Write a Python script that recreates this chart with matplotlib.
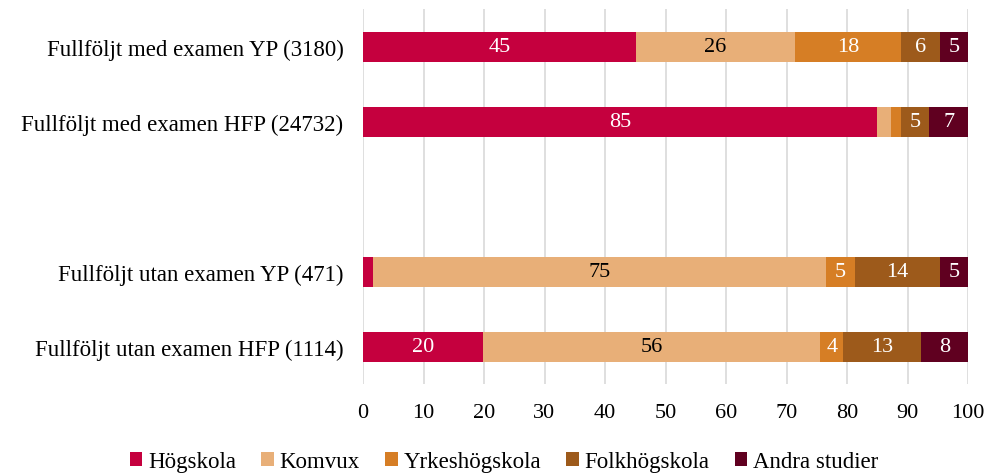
import matplotlib
matplotlib.use("Agg")
import matplotlib.pyplot as plt
import numpy as np

categories = ["Fullföljt med examen YP (3180)",
              "Fullföljt med examen HFP (24732)",
              "",
              "Fullföljt utan examen YP (471)",
              "Fullföljt utan examen HFP (1114)"]
series_names = ["Högskola", "Komvux", "Yrkeshögskola", "Folkhögskola", "Andra studier"]
values = {
    "Högskola":      [45.1, 85.0, 0, 1.6, 19.8],
    "Komvux":        [26.3, 2.3, 0, 74.9, 55.8],
    "Yrkeshögskola": [17.5, 1.7, 0, 4.8, 3.8],
    "Folkhögskola":  [6.5, 4.6, 0, 14.1, 12.9],
    "Andra studier": [4.6, 6.4, 0, 4.6, 7.7],
}
labels = {
    "Högskola":      ["45", "85", "", "", "20"],
    "Komvux":        ["26", "", "", "75", "56"],
    "Yrkeshögskola": ["18", "", "", "5", "4"],
    "Folkhögskola":  ["6", "5", "", "14", "13"],
    "Andra studier": ["5", "7", "", "5", "8"],
}
colors = ["#C5003E", "#E8AF78", "#D67E25", "#9D5A1B", "#600020"]
text_colors = ["white", "black", "white", "white", "white"]
xticks = list(range(0, 101, 10))

plt.rcParams['font.family'] = ['Liberation Serif', 'DejaVu Serif']

fig = plt.figure(figsize=(9.88, 4.77), dpi=100)
ax = fig.add_axes([363/988, 1-385/477, 605/988, 375/477])

y = np.arange(len(categories))
left = np.zeros(len(categories))
for name, c, tc in zip(series_names, colors, text_colors):
    v = np.array(values[name])
    ax.barh(y, v, left=left, height=0.4, color=c, label=name, zorder=3)
    for yi, (l, vi, lab) in enumerate(zip(left, v, labels[name])):
        if lab:
            ax.text(l + vi/2, yi, lab, ha="center", va="center", color=tc,
                    fontsize=16, zorder=4)
    left += v

ax.set_xlim(0, 100)
ax.set_ylim(4.5, -0.5)
ax.set_yticks(y)
ax.set_yticklabels(categories, fontsize=16.5)
ax.set_xticks(xticks)
ax.set_xticklabels([str(t) for t in xticks], fontsize=16)
ax.tick_params(length=0)
ax.tick_params(axis='x', pad=14)
ax.tick_params(axis='y', pad=14)
ax.grid(axis='x', color='#D9D9D9', linewidth=1.2, zorder=0)
for s in ax.spines.values():
    s.set_visible(False)

handles, labs = ax.get_legend_handles_labels()
fig.legend(handles, labs, loc="center", bbox_to_anchor=(0.51, 1-463/477), ncol=5,
           frameon=False, fontsize=16.5, handlelength=0.55, handleheight=0.55,
           handletextpad=0.25, columnspacing=1.1)

fig.savefig("out.png", dpi=100)
